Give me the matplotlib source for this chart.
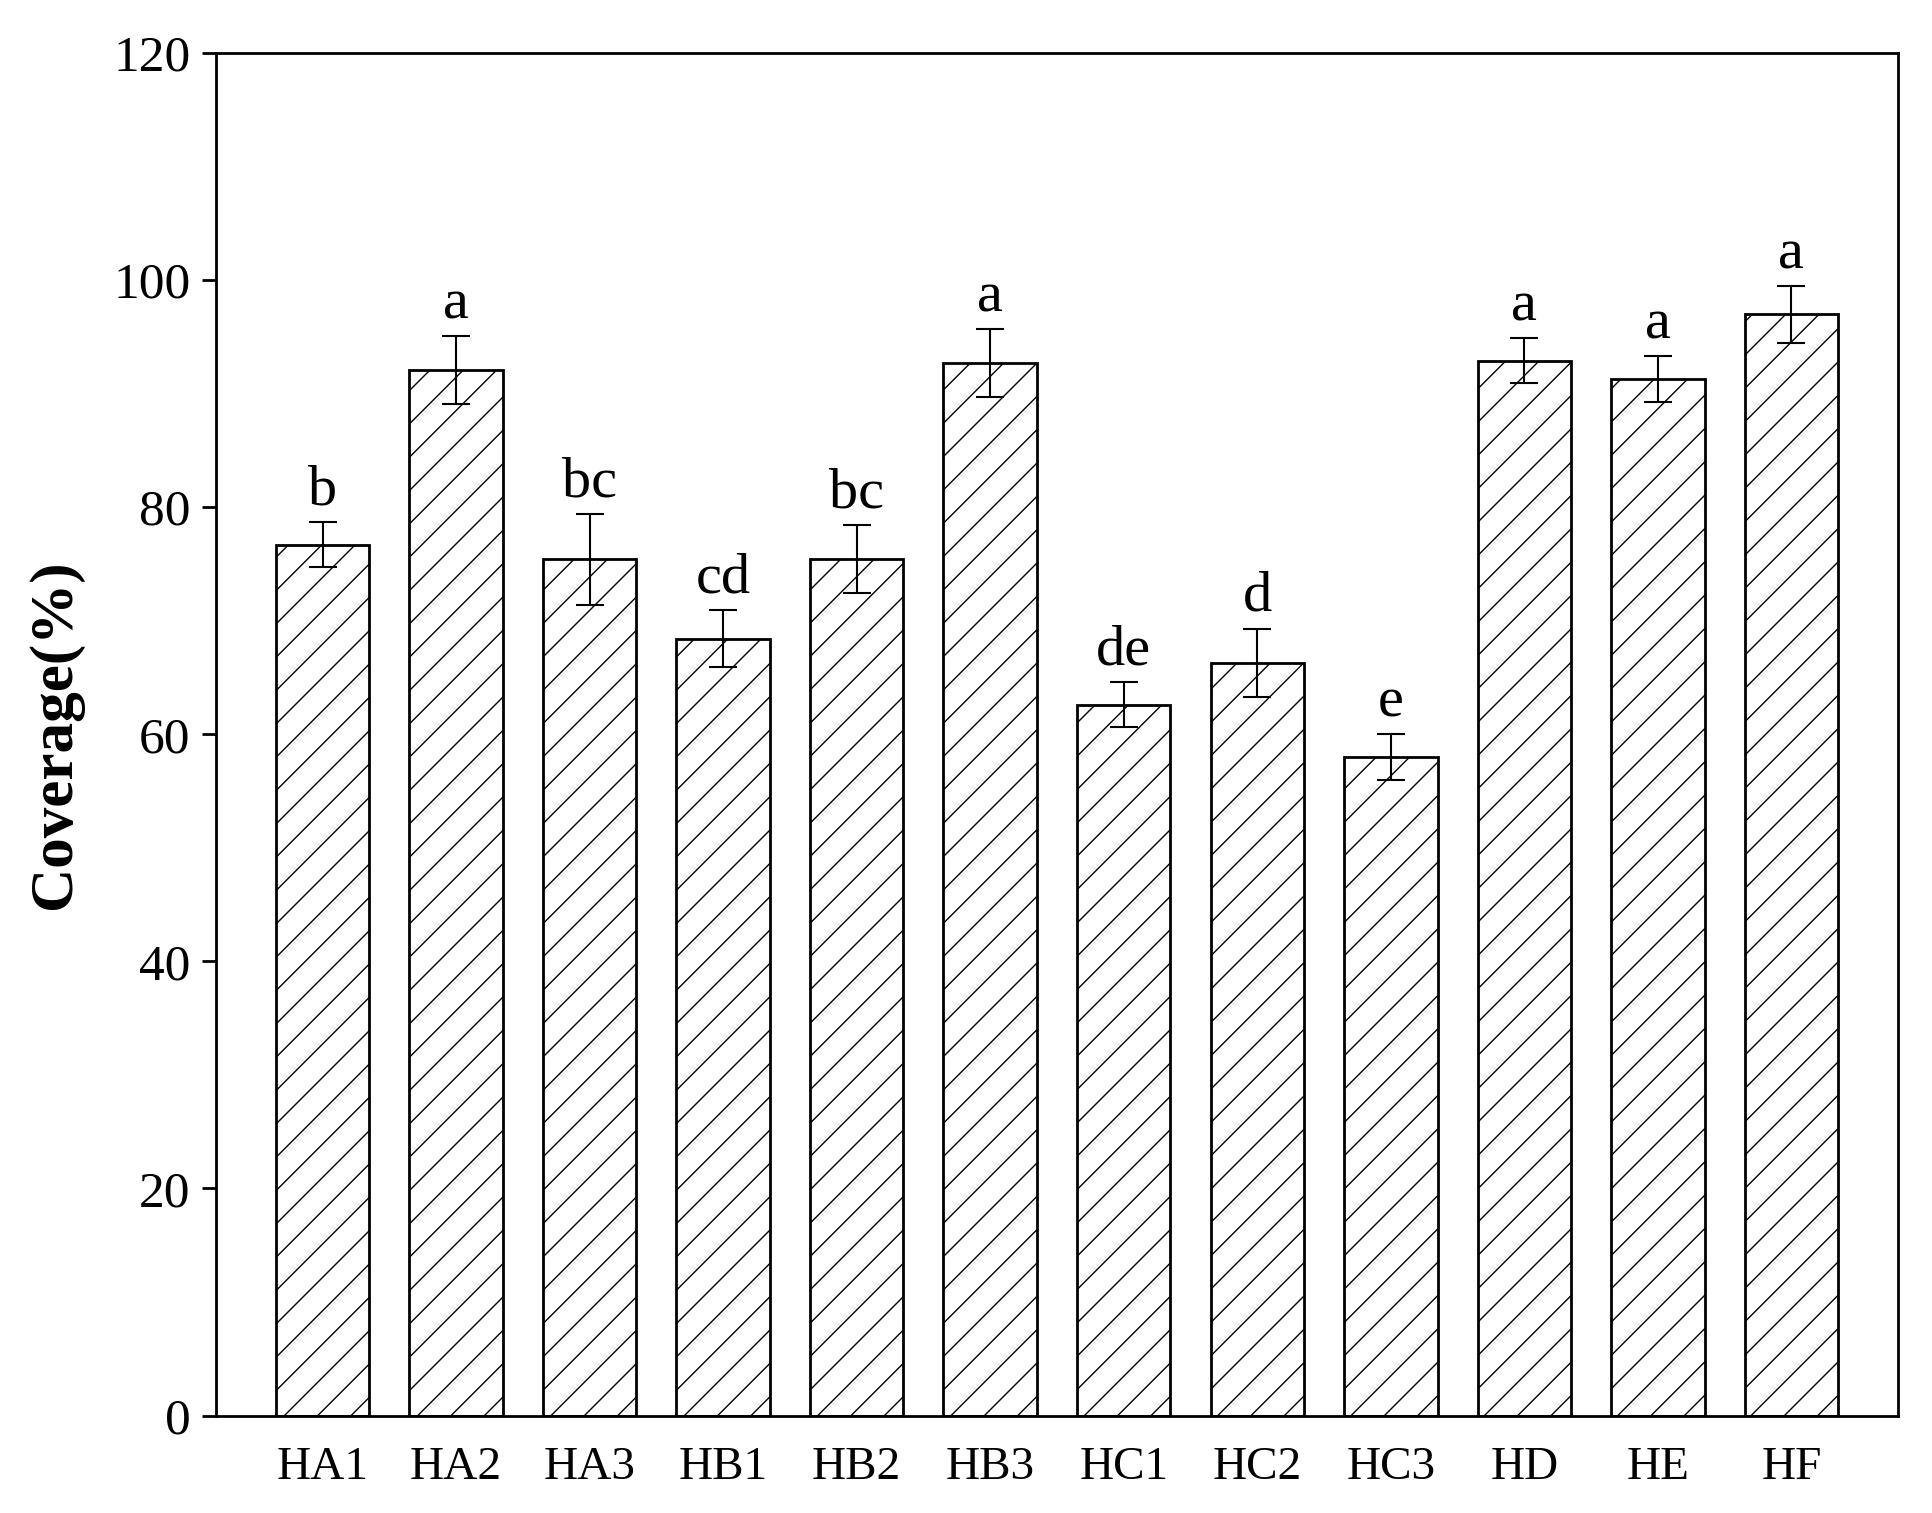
import matplotlib
matplotlib.use("Agg")
import matplotlib.pyplot as plt
import numpy as np

categories = ["HA1","HA2","HA3","HB1","HB2","HB3","HC1","HC2","HC3","HD","HE","HF"]
values = [76.7, 92.1, 75.4, 68.4, 75.4, 92.7, 62.6, 66.3, 58.0, 92.9, 91.3, 97.0]
errors = [2.0, 3.0, 4.0, 2.5, 3.0, 3.0, 2.0, 3.0, 2.0, 2.0, 2.0, 2.5]
letters = ["b","a","bc","cd","bc","a","de","d","e","a","a","a"]

plt.rcParams['font.family'] = ['Liberation Serif', 'DejaVu Serif']
plt.rcParams['hatch.linewidth'] = 1.0

fig = plt.figure(figsize=(19.33, 15.13), dpi=100)
ax = fig.add_axes([0.1116, 0.0644, 0.8704, 0.9006])
x = np.arange(len(categories))
ax.bar(x, values, width=0.7, color='white', edgecolor='black', linewidth=2, hatch='/')
ax.errorbar(x, values, yerr=errors, fmt='none', ecolor='black', elinewidth=1.5, capsize=10, capthick=1.5)
for xi, v, e, l in zip(x, values, errors, letters):
    ax.text(xi, v + e + 0.5, l, ha='center', va='bottom', fontsize=42)
ax.set_xlim(-0.8, 11.8)
ax.set_ylim(0, 120)
ax.set_yticks(range(0, 121, 20))
ax.set_xticks(x)
ax.set_xticklabels(categories)
ax.tick_params(axis='y', labelsize=37, length=10, width=2, direction='out', pad=8)
ax.tick_params(axis='x', labelsize=34, length=0, pad=22)
for s in ax.spines.values():
    s.set_linewidth(2)
ax.set_ylabel("Coverage(%)", fontsize=44, fontweight='bold', labelpad=22)
fig.savefig("out.png", dpi=100)
